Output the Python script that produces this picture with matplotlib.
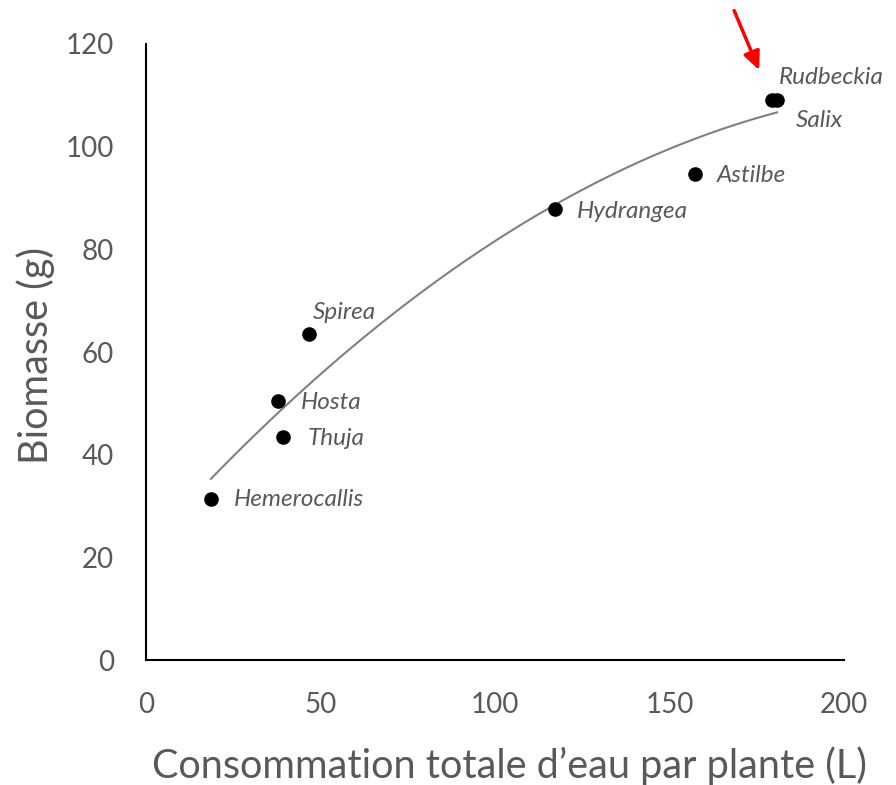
import matplotlib.pyplot as plt
import numpy as np

plt.rcParams['font.family'] = ['Lato', 'DejaVu Sans']

# data
plantes = ['Hemerocallis', 'Hosta', 'Thuja', 'Spirea', 'Hydrangea', 'Astilbe', 'Rudbeckia', 'Salix']
eau = np.array([18.6, 37.8, 39.3, 46.7, 117.2, 157.3, 179.4, 180.8])
biomasse = np.array([31.4, 50.5, 43.4, 63.5, 87.9, 94.7, 109.1, 109.1])

# label offsets in pixels (dx, dy)
offsets = {
    'Hemerocallis': (23, -1), 'Hosta': (23, -2), 'Thuja': (24, -1),
    'Spirea': (4, 22), 'Hydrangea': (22, -3), 'Astilbe': (22, -2),
    'Rudbeckia': (7, 22), 'Salix': (19, -21),
}

grey = '#595959'

fig = plt.figure(figsize=(8.96, 7.85), dpi=100)
ax = fig.add_axes([0.163, 0.159, 0.779, 0.785])

# 2nd order polynomial trend line (like Excel)
coef = np.polyfit(eau, biomasse, 2)
xs = np.linspace(eau.min(), eau.max(), 200)
ax.plot(xs, np.polyval(coef, xs), color='#808080', lw=1.5, zorder=2)

ax.scatter(eau, biomasse, s=90, color='black', zorder=3)

for name, x, y in zip(plantes, eau, biomasse):
    dx, dy = offsets[name]
    ax.annotate(name, (x, y), xytext=(dx, dy), textcoords='offset pixels',
                ha='left', va='center', fontsize=17.5, style='italic', color=grey,
                annotation_clip=False)

# red arrow pointing at Rudbeckia / Salix
ax.annotate('', xy=(176.0, 114.4), xytext=(168.2, 127.0),
            arrowprops=dict(arrowstyle='-|>,head_length=1.1,head_width=0.5', color='red', lw=2.5),
            annotation_clip=False)

ax.set_xlim(0, 200)
ax.set_ylim(0, 120)
ax.set_xticks([0, 50, 100, 150, 200])
ax.set_yticks(np.arange(0, 121, 20))
ax.spines['top'].set_visible(False)
ax.spines['right'].set_visible(False)
ax.spines['left'].set_linewidth(1.5)
ax.spines['bottom'].set_linewidth(1.5)
ax.tick_params(length=0, labelsize=20, colors=grey)
ax.tick_params(axis='y', pad=23)
ax.tick_params(axis='x', pad=23)

ax.set_xlabel('Consommation totale d\u2019eau par plante (L)', fontsize=28.5, color=grey)
ax.set_ylabel('Biomasse (g)', fontsize=28.5, color=grey)
ax.xaxis.set_label_coords(0.52, -0.14)
ax.yaxis.set_label_coords(-0.13, 0.495)

fig.savefig('out.png', dpi=100)
